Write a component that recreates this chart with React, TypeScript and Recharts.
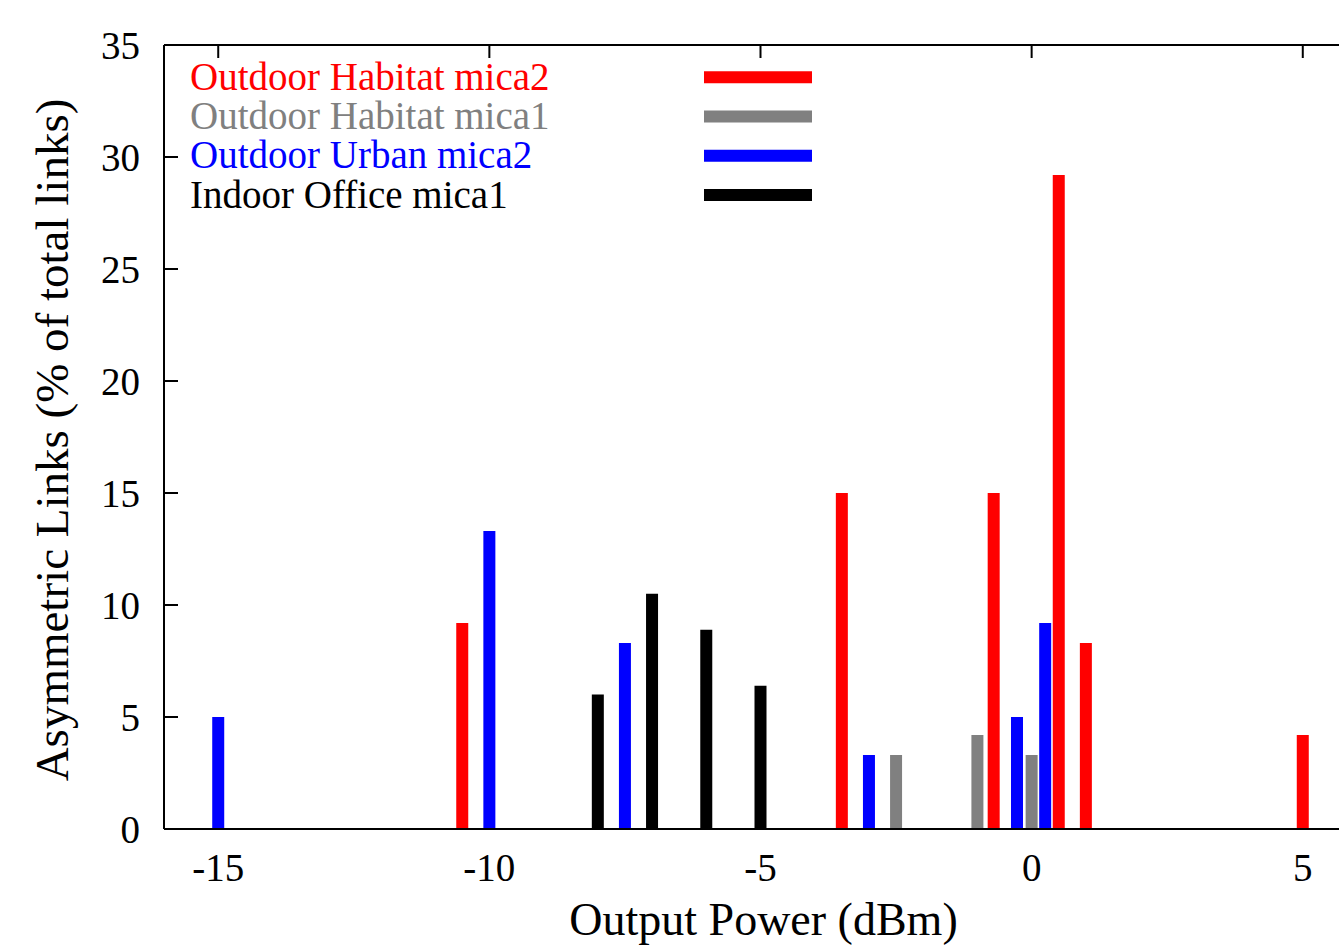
import React from 'react';
import { ComposedChart, Line, XAxis, YAxis } from 'recharts';

const xTicks = [-15, -10, -5, 0, 5];
const yTicks = [0, 5, 10, 15, 20, 25, 30, 35];

const seriesNames = ['Outdoor Habitat mica2', 'Outdoor Habitat mica1', 'Outdoor Urban mica2', 'Indoor Office mica1'];
const seriesColors = ['#ff0000', '#808080', '#0000ff', '#000000'];

// Output power (dBm) and asymmetric links (% of total links) per environment
const habitatMica2Power = [-10.5, -3.5, -0.7, 0.5, 1, 5];
const habitatMica2Pct = [9.2, 15, 15, 29.2, 8.3, 4.2];

const habitatMica1Power = [-2.5, -1, 0];
const habitatMica1Pct = [3.3, 4.2, 3.3];

const urbanMica2Power = [-15, -10, -7.5, -3, -0.27, 0.25];
const urbanMica2Pct = [5, 13.3, 8.3, 3.3, 5, 9.2];

const officeMica1Power = [-8, -7, -6, -5];
const officeMica1Pct = [6.0, 10.5, 8.9, 6.4];

type Pt = { x: number; y: number | null };
function impulses(xs: number[], ys: number[]): Pt[] {
  const out: Pt[] = [];
  xs.forEach((x, i) => {
    out.push({ x, y: 0 }, { x, y: ys[i] }, { x, y: null });
  });
  return out;
}

const seriesData = [
  impulses(habitatMica2Power, habitatMica2Pct),
  impulses(habitatMica1Power, habitatMica1Pct),
  impulses(urbanMica2Power, urbanMica2Pct),
  impulses(officeMica1Power, officeMica1Pct),
];

// data for the mirrored top axis (same domain, no visible marks)
const topAxisData = xTicks.map((x) => ({ x, y: null }));

const FONT = "'Liberation Serif', 'Times New Roman', serif";
const TICK_FS = 39;

const LeftTick = (props: any) => {
  const { x, y, payload } = props;
  return (
    <g>
      <line x1={x} x2={x + 14} y1={y} y2={y} stroke="#000" strokeWidth={2} />
      <text x={x - 24} y={y} textAnchor="end" dominantBaseline="central" fontFamily={FONT} fontSize={TICK_FS} fill="#000">
        {payload.value}
      </text>
    </g>
  );
};

const BottomTick = (props: any) => {
  const { x, y, payload } = props;
  return (
    <text x={x} y={y + 52} textAnchor="middle" fontFamily={FONT} fontSize={TICK_FS} fill="#000">
      {payload.value}
    </text>
  );
};

const TopTick = (props: any) => {
  const { x, y } = props;
  return <line x1={x} x2={x} y1={y} y2={y + 13} stroke="#000" strokeWidth={2} />;
};

const XTitle = (props: any) => {
  const vb = props.viewBox;
  return (
    <text x={vb.x + vb.width / 2 + 3} y={935} textAnchor="middle" fontFamily={FONT} fontSize={46} fill="#000">
      Output Power (dBm)
    </text>
  );
};

const YTitle = (props: any) => {
  const vb = props.viewBox;
  const cx = 68;
  const cy = vb.y + vb.height / 2 + 3;
  return (
    <text x={cx} y={cy} transform={`rotate(-90, ${cx}, ${cy})`} textAnchor="middle" fontFamily={FONT} fontSize={47} fill="#000">
      Asymmetric Links (% of total links)
    </text>
  );
};

const LegendOverlay = () => (
  <svg width={900} height={240} style={{ position: 'absolute', left: 0, top: 0, pointerEvents: 'none' }}>
    {seriesNames.map((name, i) => {
      const cy = 77.3 + i * 39.2;
      return (
        <g key={name}>
          <text x={190} y={cy + 12.7} fontFamily={FONT} fontSize={39} fill={seriesColors[i]}>
            {name}
          </text>
          <line x1={704} x2={812} y1={cy} y2={cy} stroke={seriesColors[i]} strokeWidth={12} />
        </g>
      );
    })}
  </svg>
);

export default function App() {
  return (
    <div style={{ position: 'absolute', left: 0, top: 0, width: 1339, height: 952, overflow: 'hidden', background: '#fff' }}>
      <ComposedChart width={1370} height={952} margin={{ top: 44, right: 13, bottom: 0, left: 0 }}>
        <XAxis
          type="number"
          dataKey="x"
          domain={[-16, 6]}
          ticks={xTicks}
          interval={0}
          allowDataOverflow
          height={123}
          tickLine={false}
          tickSize={0}
          tickMargin={0}
          axisLine={{ stroke: '#000', strokeWidth: 2 }}
          tick={BottomTick}
          label={{ content: XTitle }}
        />
        <XAxis
          xAxisId="top"
          orientation="top"
          type="number"
          dataKey="x"
          domain={[-16, 6]}
          ticks={xTicks}
          interval={0}
          allowDataOverflow
          height={1}
          tickLine={false}
          tickSize={0}
          tickMargin={0}
          axisLine={{ stroke: '#000', strokeWidth: 2 }}
          tick={TopTick}
        />
        <YAxis
          type="number"
          domain={[0, 35]}
          ticks={yTicks}
          interval={0}
          allowDataOverflow
          width={164}
          tickLine={false}
          tickSize={0}
          tickMargin={0}
          axisLine={{ stroke: '#000', strokeWidth: 2 }}
          tick={LeftTick}
          label={{ content: YTitle }}
        />
        <Line
          xAxisId="top"
          data={topAxisData}
          dataKey="y"
          stroke="none"
          dot={false}
          activeDot={false}
          legendType="none"
          isAnimationActive={false}
        />
        {seriesData.map((d, i) => (
          <Line
            key={seriesNames[i]}
            name={seriesNames[i]}
            data={d}
            dataKey="y"
            type="linear"
            stroke={seriesColors[i]}
            strokeWidth={12}
            strokeLinecap="butt"
            dot={false}
            activeDot={false}
            connectNulls={false}
            isAnimationActive={false}
          />
        ))}
      </ComposedChart>
      <LegendOverlay />
    </div>
  );
}
